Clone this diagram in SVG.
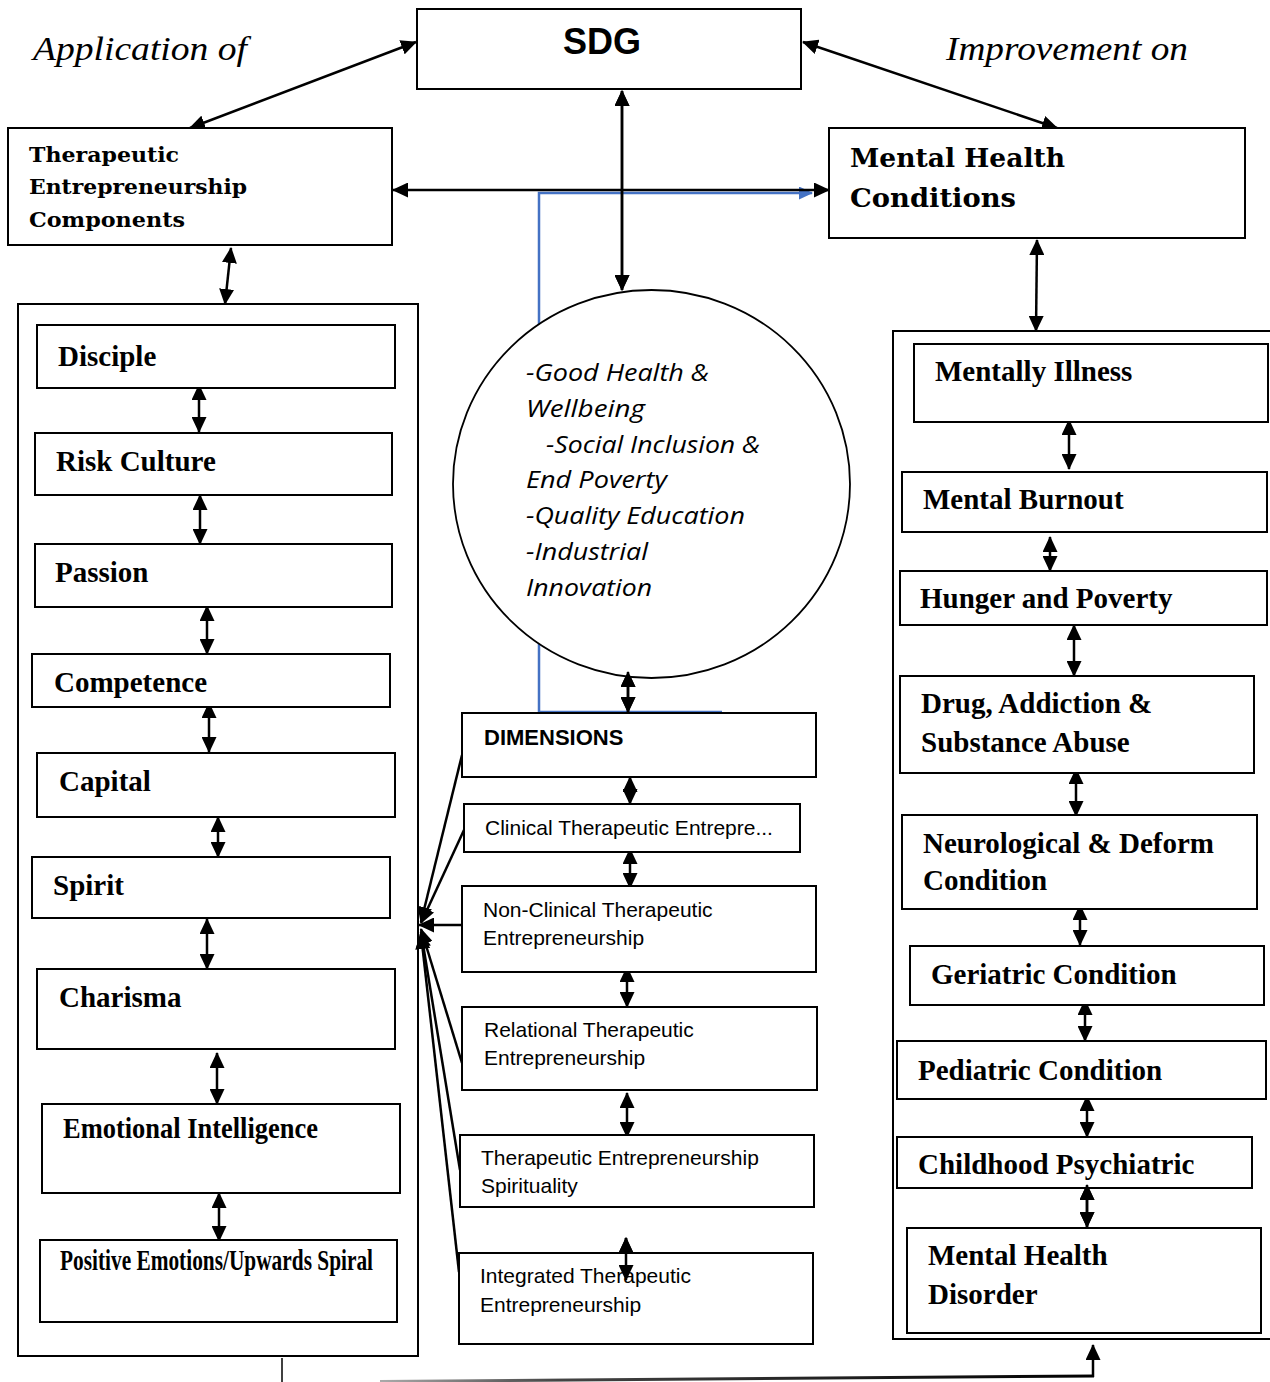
<svg xmlns="http://www.w3.org/2000/svg" width="1270" height="1382" viewBox="0 0 1270 1382">
<style>
.box{fill:#fff;stroke:#000;stroke-width:2}
.con{fill:none;stroke:#000;stroke-width:2.5}
.dbl{marker-start:url(#ah);marker-end:url(#ah)}
.one{marker-end:url(#ah)}
.ttl{font-family:"Liberation Serif",serif;font-style:italic;font-size:34px}
.slab{font-family:"DejaVu Serif","Liberation Serif",serif;font-weight:bold}
.tb{font-family:"Liberation Serif",serif;font-weight:bold;font-size:29px}
.sans{font-family:"Liberation Sans",Arial,sans-serif;font-size:21px}
.it{font-family:"Open Sans","Noto Sans",sans-serif;font-style:italic;font-size:23px}
</style>
<defs>
<marker id="ah" viewBox="0 0 16 15" refX="15" refY="7.5" markerWidth="16" markerHeight="15" markerUnits="userSpaceOnUse" orient="auto-start-reverse"><path d="M0,0 L16,7.5 L0,15 z" fill="#000"/></marker>
<marker id="ahb" viewBox="0 0 14 13" refX="13" refY="6.5" markerWidth="14" markerHeight="13" markerUnits="userSpaceOnUse" orient="auto"><path d="M0,0 L14,6.5 L0,13 z" fill="#4472c4"/></marker>
<linearGradient id="fade" x1="0" y1="0" x2="1" y2="0"><stop offset="0" stop-color="#aaa"/><stop offset="0.25" stop-color="#444"/><stop offset="1" stop-color="#000"/></linearGradient>
</defs>

<text class="ttl" x="33" y="60" textLength="214" lengthAdjust="spacingAndGlyphs">Application of</text>
<text class="ttl" x="946" y="60" textLength="242" lengthAdjust="spacingAndGlyphs">Improvement on</text>

<g id="connectors">
<polyline points="539,712 539,193 812,193" fill="none" stroke="#4472c4" stroke-width="2.5" marker-end="url(#ahb)"/>
<line x1="539" y1="712" x2="722" y2="712" stroke="#4472c4" stroke-width="2.5"/>
<line class="con dbl" x1="416" y1="42" x2="190" y2="128"/>
<line class="con dbl" x1="803" y1="42" x2="1057" y2="128"/>
<line class="con dbl" x1="393" y1="190" x2="829" y2="190"/>
<line class="con dbl" x1="622" y1="91" x2="622" y2="290"/>
<line class="con dbl" x1="231" y1="248" x2="225" y2="304"/>
<line class="con dbl" x1="1037" y1="240" x2="1036" y2="331"/>
<line class="con dbl" x1="628" y1="672" x2="628" y2="712"/>
<line class="con dbl" x1="199" y1="385" x2="199" y2="432"/>
<line class="con dbl" x1="200" y1="495" x2="200" y2="544"/>
<line class="con dbl" x1="207" y1="606" x2="207" y2="654"/>
<line class="con dbl" x1="209" y1="703" x2="209" y2="752"/>
<line class="con dbl" x1="218" y1="817" x2="218" y2="857"/>
<line class="con dbl" x1="207" y1="919" x2="207" y2="969"/>
<line class="con dbl" x1="217" y1="1053" x2="217" y2="1104"/>
<line class="con dbl" x1="219" y1="1193" x2="219" y2="1241"/>
<line class="con dbl" x1="630" y1="777" x2="630" y2="804"/>
<line class="con dbl" x1="630" y1="849" x2="630" y2="888"/>
<line class="con dbl" x1="627" y1="967" x2="627" y2="1007"/>
<line class="con dbl" x1="627" y1="1093" x2="627" y2="1137"/>
<line class="con dbl" x1="626" y1="1238" x2="626" y2="1280"/>
<line class="con one" x1="462" y1="755" x2="421" y2="922"/>
<line class="con one" x1="464" y1="830" x2="421" y2="923"/>
<line class="con one" x1="462" y1="925" x2="419" y2="925"/>
<line class="con one" x1="462" y1="1063" x2="421" y2="929"/>
<line class="con one" x1="460" y1="1170" x2="421" y2="932"/>
<line class="con one" x1="459" y1="1272" x2="421" y2="934"/>
<line class="con dbl" x1="1069" y1="420" x2="1069" y2="469"/>
<line class="con dbl" x1="1050" y1="537" x2="1050" y2="571"/>
<line class="con dbl" x1="1074" y1="625" x2="1074" y2="676"/>
<line class="con dbl" x1="1076" y1="769" x2="1076" y2="816"/>
<line class="con dbl" x1="1080" y1="905" x2="1080" y2="945"/>
<line class="con dbl" x1="1085" y1="1000" x2="1085" y2="1041"/>
<line class="con dbl" x1="1087" y1="1096" x2="1087" y2="1137"/>
<line class="con dbl" x1="1087" y1="1185" x2="1087" y2="1227"/>
<line x1="282" y1="1358" x2="282" y2="1382" stroke="#000" stroke-width="1.5"/>
<line x1="380" y1="1381.5" x2="1094" y2="1376" stroke="url(#fade)" stroke-width="3"/>
<line class="con one" x1="1093" y1="1377" x2="1093" y2="1345"/>
</g>

<g id="sdg"><rect class="box" x="417" y="9" width="384" height="80"/><text x="602" y="54" text-anchor="middle" font-family="Liberation Sans,Arial,sans-serif" font-weight="bold" font-size="36">SDG</text></g>

<g id="tec"><rect class="box" x="8" y="128" width="384" height="117"/>
<text class="slab" font-size="20" x="29" y="162" textLength="150" lengthAdjust="spacingAndGlyphs">Therapeutic</text>
<text class="slab" font-size="20" x="29" y="194" textLength="218" lengthAdjust="spacingAndGlyphs">Entrepreneurship</text>
<text class="slab" font-size="20" x="29" y="227" textLength="156" lengthAdjust="spacingAndGlyphs">Components</text></g>

<g id="mhc"><rect class="box" x="829" y="128" width="416" height="110"/>
<text class="slab" font-size="26" x="850" y="167" textLength="215" lengthAdjust="spacingAndGlyphs">Mental Health</text>
<text class="slab" font-size="26" x="850" y="207" textLength="166" lengthAdjust="spacingAndGlyphs">Conditions</text></g>

<g id="sdg-goals"><ellipse cx="651.5" cy="484" rx="198.5" ry="194" fill="#fff" stroke="#000" stroke-width="1.8"/>
<text class="it" x="526" y="381" textLength="183" lengthAdjust="spacingAndGlyphs">-Good Health &amp;</text>
<text class="it" x="526" y="417" textLength="119" lengthAdjust="spacingAndGlyphs">Wellbeing</text>
<text class="it" x="546" y="453" textLength="214" lengthAdjust="spacingAndGlyphs">-Social Inclusion &amp;</text>
<text class="it" x="526" y="488" textLength="141" lengthAdjust="spacingAndGlyphs">End Poverty</text>
<text class="it" x="526" y="524" textLength="219" lengthAdjust="spacingAndGlyphs">-Quality Education</text>
<text class="it" x="526" y="560" textLength="122" lengthAdjust="spacingAndGlyphs">-Industrial</text>
<text class="it" x="526" y="596" textLength="126" lengthAdjust="spacingAndGlyphs">Innovation</text></g>

<g id="components-panel"><rect x="18" y="304" width="400" height="1052" fill="none" stroke="#000" stroke-width="2"/></g>
<g id="disciple"><rect class="box" x="37" y="325" width="358" height="63"/><text class="tb" x="58" y="366">Disciple</text></g>
<g id="risk-culture"><rect class="box" x="35" y="433" width="357" height="62"/><text class="tb" x="56" y="471">Risk Culture</text></g>
<g id="passion"><rect class="box" x="35" y="544" width="357" height="63"/><text class="tb" x="55" y="582">Passion</text></g>
<g id="competence"><rect class="box" x="32" y="654" width="358" height="53"/><text class="tb" x="54" y="692">Competence</text></g>
<g id="capital"><rect class="box" x="37" y="753" width="358" height="64"/><text class="tb" x="59" y="791">Capital</text></g>
<g id="spirit"><rect class="box" x="32" y="857" width="358" height="61"/><text class="tb" x="53" y="895">Spirit</text></g>
<g id="charisma"><rect class="box" x="37" y="969" width="358" height="80"/><text class="tb" x="59" y="1007">Charisma</text></g>
<g id="emotional-intelligence"><rect class="box" x="42" y="1104" width="358" height="89"/><text class="tb" font-size="25" x="63" y="1138" textLength="255" lengthAdjust="spacingAndGlyphs">Emotional Intelligence</text></g>
<g id="positive-emotions"><rect class="box" x="40" y="1240" width="357" height="82"/><text class="tb" font-size="17" x="60" y="1270" textLength="313" lengthAdjust="spacingAndGlyphs">Positive Emotions/Upwards Spiral</text></g>

<g id="dimensions"><rect class="box" x="462" y="713" width="354" height="64"/><text x="484" y="745" font-family="Liberation Sans,Arial,sans-serif" font-weight="bold" font-size="22">DIMENSIONS</text></g>
<g id="clinical"><rect class="box" x="464" y="804" width="336" height="48"/><text class="sans" x="485" y="835">Clinical Therapeutic Entrepre...</text></g>
<g id="non-clinical"><rect class="box" x="462" y="886" width="354" height="86"/><text class="sans" x="483" y="917">Non-Clinical Therapeutic</text><text class="sans" x="483" y="945">Entrepreneurship</text></g>
<g id="relational"><rect class="box" x="462" y="1007" width="355" height="83"/><text class="sans" x="484" y="1037">Relational Therapeutic</text><text class="sans" x="484" y="1065">Entrepreneurship</text></g>
<g id="spirituality"><rect class="box" x="460" y="1135" width="354" height="72"/><text class="sans" x="481" y="1165">Therapeutic Entrepreneurship</text><text class="sans" x="481" y="1193">Spirituality</text></g>
<g id="integrated"><rect class="box" x="459" y="1253" width="354" height="91"/><text class="sans" x="480" y="1283">Integrated Therapeutic</text><text class="sans" x="480" y="1312">Entrepreneurship</text></g>

<g id="conditions-panel"><rect x="893" y="331" width="400" height="1008" fill="none" stroke="#000" stroke-width="2"/></g>
<g id="mentally-illness"><rect class="box" x="914" y="344" width="354" height="78"/><text class="tb" x="935" y="381">Mentally Illness</text></g>
<g id="mental-burnout"><rect class="box" x="902" y="472" width="365" height="60"/><text class="tb" x="923" y="509">Mental Burnout</text></g>
<g id="hunger-poverty"><rect class="box" x="900" y="571" width="367" height="54"/><text class="tb" x="920" y="608">Hunger and Poverty</text></g>
<g id="drug"><rect class="box" x="900" y="676" width="354" height="97"/><text class="tb" x="921" y="713">Drug, Addiction &amp;</text><text class="tb" x="921" y="752">Substance Abuse</text></g>
<g id="neurological"><rect class="box" x="902" y="815" width="355" height="94"/><text class="tb" x="923" y="853">Neurological &amp; Deform</text><text class="tb" x="923" y="890">Condition</text></g>
<g id="geriatric"><rect class="box" x="910" y="946" width="354" height="59"/><text class="tb" x="931" y="984">Geriatric Condition</text></g>
<g id="pediatric"><rect class="box" x="897" y="1041" width="369" height="58"/><text class="tb" x="918" y="1080">Pediatric Condition</text></g>
<g id="childhood"><rect class="box" x="897" y="1137" width="355" height="51"/><text class="tb" x="918" y="1174">Childhood Psychiatric</text></g>
<g id="mh-disorder"><rect class="box" x="907" y="1228" width="354" height="105"/><text class="tb" x="928" y="1265">Mental Health</text><text class="tb" x="928" y="1304">Disorder</text></g>

<g id="overlay-arrows">
<line class="con dbl" x1="1087" y1="1185" x2="1087" y2="1227"/>
<line class="con dbl" x1="626" y1="1238" x2="626" y2="1280"/>
<line class="con dbl" x1="628" y1="672" x2="628" y2="712"/>
<line class="con dbl" x1="622" y1="91" x2="622" y2="290"/>
</g>
</svg>
